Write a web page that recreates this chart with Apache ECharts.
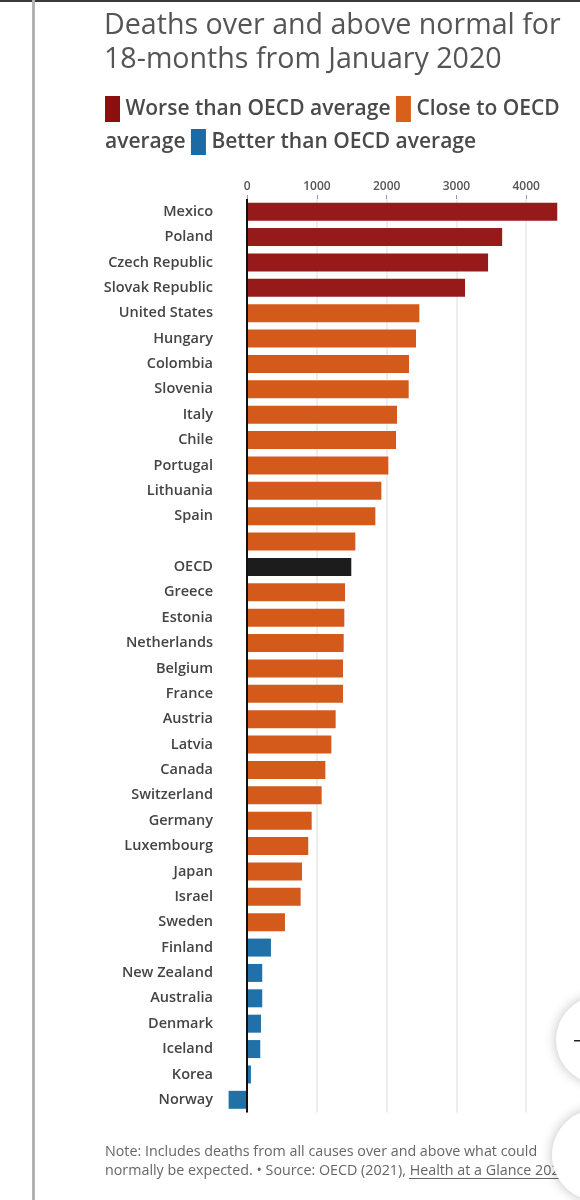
<!DOCTYPE html>
<html>
<head>
<meta charset="utf-8">
<script src="https://cdn.jsdelivr.net/npm/echarts@6/dist/echarts.min.js"></script>
<style>
  html, body { margin: 0; padding: 0; background: #fff; }
  #chart { width: 580px; height: 1200px; }
</style>
</head>
<body>
<div id="chart"></div>
<script>
// countries, top to bottom (one row has no label in the original)
var countries = ['Mexico', 'Poland', 'Czech Republic', 'Slovak Republic', 'United States', 'Hungary',
  'Colombia', 'Slovenia', 'Italy', 'Chile', 'Portugal', 'Lithuania', 'Spain', '', 'OECD',
  'Greece', 'Estonia', 'Netherlands', 'Belgium', 'France', 'Austria', 'Latvia', 'Canada',
  'Switzerland', 'Germany', 'Luxembourg', 'Japan', 'Israel', 'Sweden', 'Finland',
  'New Zealand', 'Australia', 'Denmark', 'Iceland', 'Korea', 'Norway'];

// excess deaths per million
var deaths = [4445, 3655, 3453, 3123, 2468, 2420, 2320, 2315, 2148, 2133, 2023, 1923, 1837,
  1550, 1492, 1402, 1392, 1383, 1373, 1373, 1268, 1206, 1120, 1067, 924, 875, 785, 766, 541,
  340, 215, 215, 197, 187, 53, -267];

// w = worse, c = close, b = better, o = OECD average
var groups = ['w', 'w', 'w', 'w', 'c', 'c', 'c', 'c', 'c', 'c', 'c', 'c', 'c', 'c', 'o',
  'c', 'c', 'c', 'c', 'c', 'c', 'c', 'c', 'c', 'c', 'c', 'c', 'c', 'c',
  'b', 'b', 'b', 'b', 'b', 'b', 'b'];

var tickValues = [0, 1000, 2000, 3000, 4000];

var colors = { w: '#971a1a', c: '#d35a1b', b: '#2270a8', o: '#1c1c1c' };

var chart = echarts.init(document.getElementById('chart'));

var option = {
  backgroundColor: '#fff',
  animation: false,
  textStyle: { fontFamily: 'Open Sans' },
  title: {
    text: 'Deaths over and above normal for\n18-months from January 2020',
    left: 104,
    top: 9,
    padding: 0,
    textStyle: {
      fontFamily: 'Open Sans',
      fontSize: 28.6,
      fontWeight: 'normal',
      color: '#555',
      lineHeight: 34
    }
  },
  grid: {
    left: 227,
    right: 21,
    top: 199,
    bottom: 87.5
  },
  xAxis: {
    type: 'value',
    position: 'top',
    min: -290,
    max: 4470,
    axisLine: { show: false },
    axisTick: {
      show: true,
      length: 4,
      customValues: tickValues,
      lineStyle: { color: '#999' }
    },
    axisLabel: {
      customValues: tickValues,
      formatter: function (v) { return String(v); },
      margin: 6,
      color: '#555',
      fontSize: 12,
      fontWeight: 600,
      fontFamily: 'Open Sans'
    },
    splitLine: {
      show: true,
      lineStyle: { color: '#e8e8e8', width: 1.5 }
    }
  },
  yAxis: {
    type: 'category',
    inverse: true,
    data: countries,
    axisLine: { show: false, onZero: false },
    axisTick: { show: false },
    axisLabel: {
      margin: 14,
      color: '#444',
      fontSize: 14.5,
      fontWeight: 600,
      fontFamily: 'Open Sans'
    }
  },
  series: [{
    type: 'bar',
    barWidth: 18,
    data: deaths.map(function (v, i) {
      return { value: v, itemStyle: { color: colors[groups[i]] } };
    }),
    markLine: {
      silent: true,
      symbol: 'none',
      label: { show: false },
      lineStyle: { color: '#111', width: 2, type: 'solid' },
      data: [{ xAxis: 0 }]
    }
  }],
  graphic: [
    { type: 'rect', left: 0, top: 0, shape: { width: 580, height: 2 }, style: { fill: '#3a3a3a' } },
    { type: 'rect', left: 32, top: 0, shape: { width: 3, height: 1200 }, style: { fill: '#b3b3b3' } },
    {
      type: 'text',
      left: 105,
      top: 96,
      style: {
        text: '{r|}{t| Worse than OECD average }{o|}{t| Close to OECD}\n{t|average }{b|}{t| Better than OECD average}',
        rich: {
          r: { width: 15, height: 26, backgroundColor: '#8c0f0f' },
          o: { width: 15, height: 26, backgroundColor: '#d9601a' },
          b: { width: 15, height: 26, backgroundColor: '#1b6aa6' },
          t: { fontSize: 21, fontWeight: 600, fontFamily: 'Open Sans', fill: '#4a4a4a', lineHeight: 33 }
        }
      }
    },
    {
      type: 'text',
      left: 105,
      top: 1142,
      style: {
        text: 'Note: Includes deaths from all causes over and above what could\nnormally be expected. \u2022 Source: OECD (2021), Health at a Glance 2021',
        fontSize: 14.3,
        fontFamily: 'Open Sans',
        fill: '#666',
        lineHeight: 19.5
      }
    },
    { type: 'rect', left: 409, top: 1178, shape: { width: 152, height: 1 }, style: { fill: '#666' } },
    {
      type: 'circle', z: 100,
      shape: { cx: 600, cy: 1040, r: 44 },
      style: { fill: '#fff', shadowBlur: 12, shadowColor: 'rgba(0,0,0,0.25)' }
    },
    {
      type: 'rect', z: 101, left: 574, top: 1040,
      shape: { width: 8, height: 1.5 }, style: { fill: '#222' }
    },
    {
      type: 'circle', z: 100,
      shape: { cx: 598, cy: 1155, r: 46 },
      style: { fill: '#fff', shadowBlur: 12, shadowColor: 'rgba(0,0,0,0.25)' }
    }
  ]
};

chart.setOption(option);
</script>
</body>
</html>
